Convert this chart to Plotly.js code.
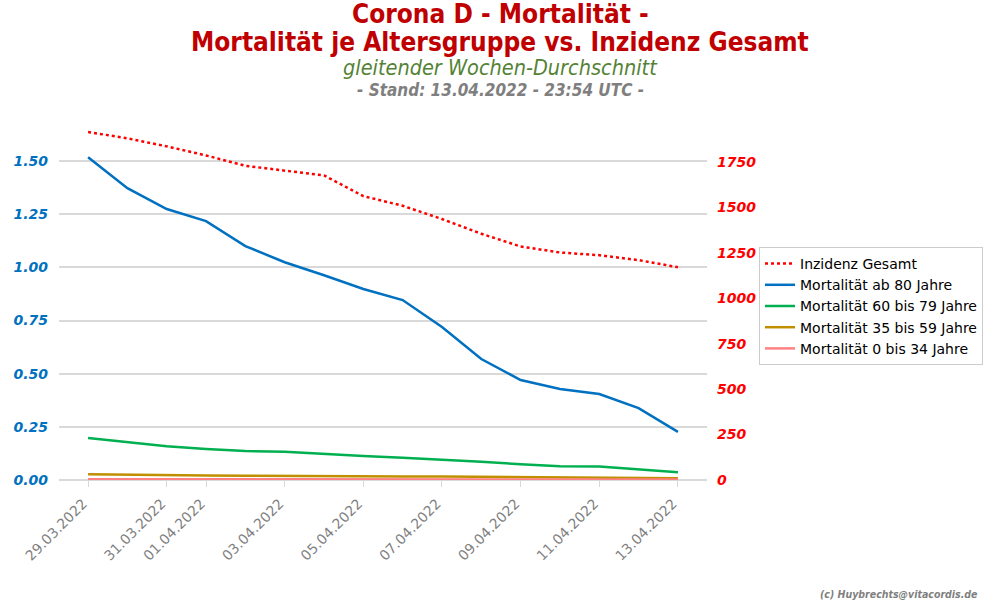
<!DOCTYPE html>
<html>
<head>
<meta charset="utf-8">
<script src="https://cdn.plot.ly/plotly-3.0.1.min.js"></script>
<style>html,body{margin:0;padding:0;background:#fff}#chart{width:1000px;height:600px}</style>
</head>
<body>
<div id="chart"></div>
<script>
var dates = ['2022-03-29','2022-03-30','2022-03-31','2022-04-01','2022-04-02','2022-04-03','2022-04-04','2022-04-05',
             '2022-04-06','2022-04-07','2022-04-08','2022-04-09','2022-04-10','2022-04-11','2022-04-12','2022-04-13'];
var inzidenzGesamt = [1915,1880,1836,1786,1729,1703,1676,1562,1509,1436,1355,1285,1252,1237,1210,1171];
var mort80 = [1.518,1.372,1.274,1.217,1.100,1.024,0.963,0.898,0.846,0.719,0.569,0.470,0.428,0.404,0.338,0.226];
var mort60_79 = [0.198,0.178,0.159,0.146,0.136,0.133,0.122,0.113,0.105,0.097,0.086,0.074,0.065,0.064,0.049,0.036];
var mort35_59 = [0.027,0.024,0.024,0.021,0.020,0.020,0.018,0.017,0.017,0.016,0.015,0.013,0.012,0.012,0.010,0.008];
var mort0_34 = [0.004,0.003,0.003,0.003,0.003,0.003,0.003,0.003,0.003,0.003,0.003,0.002,0.002,0.002,0.002,0.002];
var tickDates = ['2022-03-29','2022-03-31','2022-04-01','2022-04-03','2022-04-05','2022-04-07','2022-04-09','2022-04-11','2022-04-13'];
var tickLabels = ['29.03.2022','31.03.2022','01.04.2022','03.04.2022','05.04.2022','07.04.2022','09.04.2022','11.04.2022','13.04.2022'];
var leftTicks = [0,0.25,0.5,0.75,1.0,1.25,1.5];
var rightTicks = [0,250,500,750,1000,1250,1500,1750];

var W = 1000, H = 600;
var mL = 59, mR = 293, mT = 116, mB = 120;
var pw = W - mL - mR, ph = H - mT - mB;
function px(x){ return (x - mL) / pw; }
function py(y){ return (H - mB - y) / ph; }

var traces = [
  {x: dates, y: inzidenzGesamt, name: 'Inzidenz Gesamt', yaxis: 'y2', mode: 'lines',
   line: {color: '#FF0000', width: 2.5, dash: 'dot'}},
  {x: dates, y: mort80, name: 'Mortalität ab 80 Jahre', mode: 'lines', line: {color: '#0070C0', width: 2.5}},
  {x: dates, y: mort60_79, name: 'Mortalität 60 bis 79 Jahre', mode: 'lines', line: {color: '#00B050', width: 2.5}},
  {x: dates, y: mort35_59, name: 'Mortalität 35 bis 59 Jahre', mode: 'lines', line: {color: '#BF8F00', width: 2.5}},
  {x: dates, y: mort0_34, name: 'Mortalität 0 bis 34 Jahre', mode: 'lines', line: {color: '#FF8080', width: 2.5}}
];

var baseFont = 'DejaVu Sans, sans-serif';
var condFont = 'DejaVu Sans Condensed, DejaVu Sans, sans-serif';

var layout = {
  width: W, height: H,
  margin: {l: mL, r: mR, t: mT, b: mB, pad: 0},
  paper_bgcolor: '#fff', plot_bgcolor: '#fff',
  font: {family: baseFont, size: 14, color: '#000'},
  showlegend: true,
  legend: {xref: 'container', yref: 'container', x: 0.759, y: 1 - 247/600, xanchor: 'left', yanchor: 'top',
           bordercolor: '#CCCCCC', borderwidth: 1, bgcolor: '#fff',
           font: {family: baseFont, size: 14, color: '#000'}},
  xaxis: {type: 'date', range: ['2022-03-28 06:15', '2022-04-13 17:45'],
          tickvals: tickDates, ticktext: tickLabels, tickangle: -45,
          tickfont: {family: baseFont, size: 14, color: '#7F7F7F'},
          ticks: 'outside', ticklen: 6, tickcolor: '#D9D9D9', tickwidth: 1,
          ticklabelstandoff: 3, ticklabelshift: -5,
          showgrid: false, showline: false, zeroline: false, fixedrange: true},
  yaxis: {range: [0, 1.7116], tickvals: leftTicks, tickformat: '.2f',
          tickfont: {family: baseFont, size: 14, color: '#0070C0', weight: 'bold', style: 'italic'},
          ticks: '', ticklabelstandoff: 10,
          showgrid: true, gridcolor: '#D9D9D9', gridwidth: 2,
          zeroline: true, zerolinecolor: '#D9D9D9', zerolinewidth: 2, showline: false, fixedrange: true},
  yaxis2: {range: [0, 2003], overlaying: 'y', side: 'right', tickvals: rightTicks,
           tickfont: {family: baseFont, size: 14, color: '#FF0000', weight: 'bold', style: 'italic'},
           ticks: '', ticklabelstandoff: 9, showgrid: false, zeroline: false, showline: false, fixedrange: true},
  annotations: [
    {text: 'Corona D - Mortalität -', xref: 'paper', yref: 'paper', x: px(500), y: py(14), xanchor: 'center', yanchor: 'middle',
     showarrow: false, font: {family: condFont, size: 26, color: '#C00000', weight: 'bold'}},
    {text: 'Mortalität je Altersgruppe vs. Inzidenz Gesamt', xref: 'paper', yref: 'paper', x: px(500), y: py(41.5), xanchor: 'center', yanchor: 'middle',
     showarrow: false, font: {family: condFont, size: 26, color: '#C00000', weight: 'bold'}},
    {text: 'gleitender Wochen-Durchschnitt', xref: 'paper', yref: 'paper', x: px(500), y: py(67.5), xanchor: 'center', yanchor: 'middle',
     showarrow: false, font: {family: condFont, size: 21.5, color: '#548235', style: 'italic'}},
    {text: '- Stand: 13.04.2022 - 23:54 UTC -', xref: 'paper', yref: 'paper', x: px(500), y: py(89.5), xanchor: 'center', yanchor: 'middle',
     showarrow: false, font: {family: condFont, size: 17, color: '#7F7F7F', weight: 'bold', style: 'italic'}},
    {text: '(c) Huybrechts@vitacordis.de', xref: 'paper', yref: 'paper', x: px(980), y: py(594), xanchor: 'right', yanchor: 'middle',
     showarrow: false, font: {family: condFont, size: 10.5, color: '#7F7F7F', weight: 'bold', style: 'italic'}}
  ]
};

Plotly.newPlot('chart', traces, layout, {staticPlot: true, displayModeBar: false});
</script>
</body>
</html>
